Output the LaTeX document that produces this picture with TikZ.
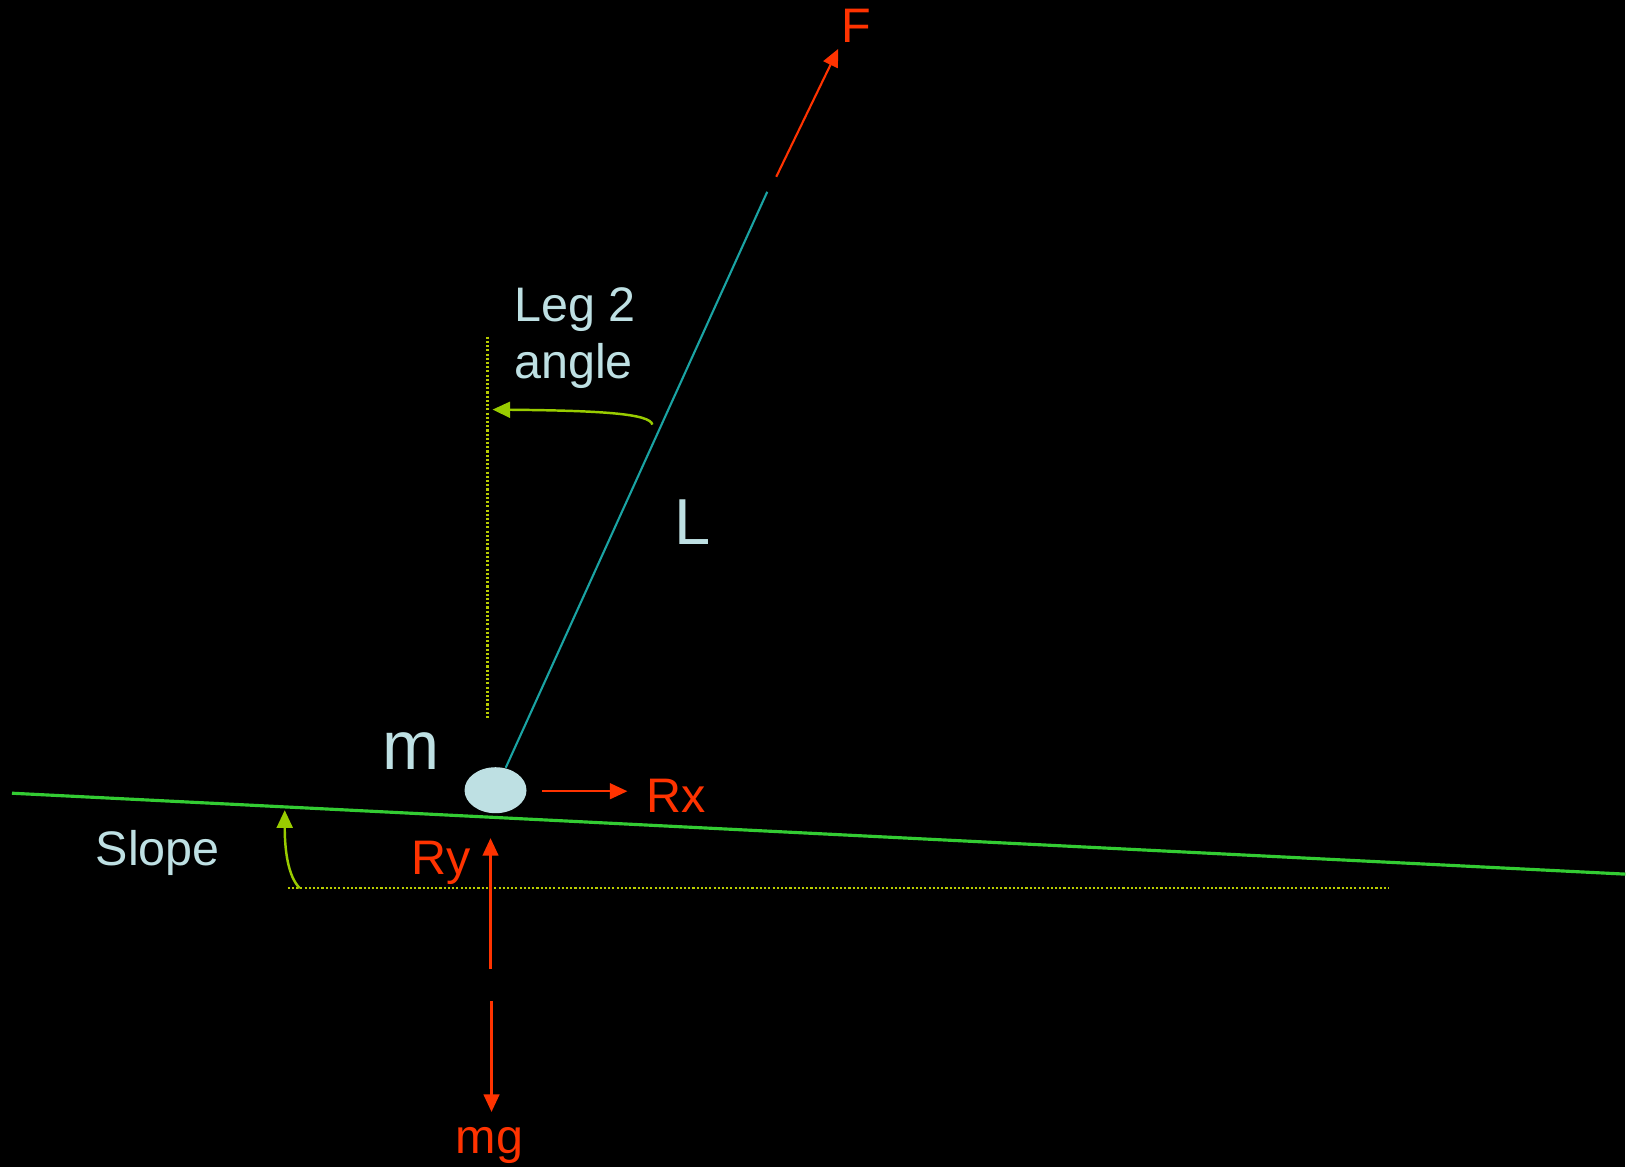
\documentclass[tikz,border=0pt]{standalone}
\usepackage{fontspec}
\setmainfont{Liberation Sans}
\usetikzlibrary{arrows.meta,shapes.geometric}
\definecolor{forcered}{HTML}{FF3300}
\definecolor{paleblue}{HTML}{BEE0E3}
\definecolor{legteal}{HTML}{1AA3A3}
\definecolor{groundgreen}{HTML}{33CC33}
\definecolor{anglegreen}{HTML}{99CC00}
\definecolor{refyellow}{HTML}{B8CC00}
\tikzset{
    force/.style={->, line width=0.6pt, forcered},
    flabel/.style={text=forcered, font=\fontsize{13.8}{16}\selectfont, inner sep=0pt},
    blabel/.style={text=paleblue, font=\fontsize{13.8}{16.2}\selectfont, inner sep=0pt},
    refline/.style={refyellow, line width=0.6pt, dash pattern=on 0.6pt off 0.6pt},
    anglearc/.style={->, line width=0.7pt, anglegreen}
}
\begin{document}
\begin{tikzpicture}[x=0.01cm, y=-0.01cm, >={Triangle[length=5pt,width=4.5pt]}]

    % fons
    \fill[black] (0,0) rectangle (1627,1168);

    % massa
    \node[
        ellipse,
        fill=paleblue,
        minimum width=0.62cm,
        minimum height=0.46cm,
        inner sep=0pt
    ] (mass) at (496,791) {};
    \node[blabel, font=\fontsize{19.5}{22}\selectfont, anchor=base] (mlabel) at (411,770) {m};

    % pendent
    \coordinate (slopeL) at (12,794);
    \coordinate (slopeR) at (1627,875);
    \draw[groundgreen, line width=0.9pt] (slopeL) -- (slopeR);
    \coordinate (horizL) at (288,889);
    \coordinate (horizR) at (1390,889);
    \draw[refline] (horizL) -- (horizR);
    \coordinate (slopearcA) at (300,889);
    \coordinate (slopearcB) at (285,811);
    \draw[anglearc] (slopearcA) .. controls (288,877) and (285,850) .. (slopearcB);
    \node[blabel, anchor=base] (slopelabel) at (158,866) {Slope};

    % cama L
    \coordinate (legtop) at (768,192);
    \draw[legteal, line width=0.6pt] (mass) -- (legtop);
    \node[blabel, font=\fontsize{18.5}{20}\selectfont, anchor=base west] (llabel) at (674,545) {L};

    % angle de la cama
    \coordinate (vertT) at (488,337);
    \coordinate (vertB) at (488,719);
    \draw[refline] (vertT) -- (vertB);
    \coordinate (legarcA) at (653,425);
    \coordinate (legarcB) at (493,410);
    \draw[anglearc] (legarcA) .. controls (651,414) and (600,411) .. (legarcB);
    \node[
        blabel,
        anchor=base west,
        align=left
    ] (leglabel) at (514,379) {Leg 2\\angle};

    % F
    \coordinate (ftail) at (777,177);
    \coordinate (fhead) at (839,49);
    \draw[force] (ftail) -- (fhead);
    \node[flabel, anchor=base west] (flab) at (842,43) {F};

    % Rx
    \coordinate (rxtail) at (543,792);
    \coordinate (rxhead) at (628,792);
    \draw[force] (rxtail) -- (rxhead);
    \node[flabel, anchor=base west] (rxlab) at (646,813) {Rx};

    % Ry
    \coordinate (rytail) at (491,970);
    \coordinate (ryhead) at (491,839);
    \draw[force] (rytail) -- (ryhead);
    \node[flabel, anchor=base west] (rylab) at (411,875) {Ry};

    % mg
    \coordinate (mgtail) at (492,1002);
    \coordinate (mghead) at (492,1113);
    \draw[force] (mgtail) -- (mghead);
    \node[flabel, anchor=base] (mglab) at (490,1155) {mg};

\end{tikzpicture}
\end{document}
